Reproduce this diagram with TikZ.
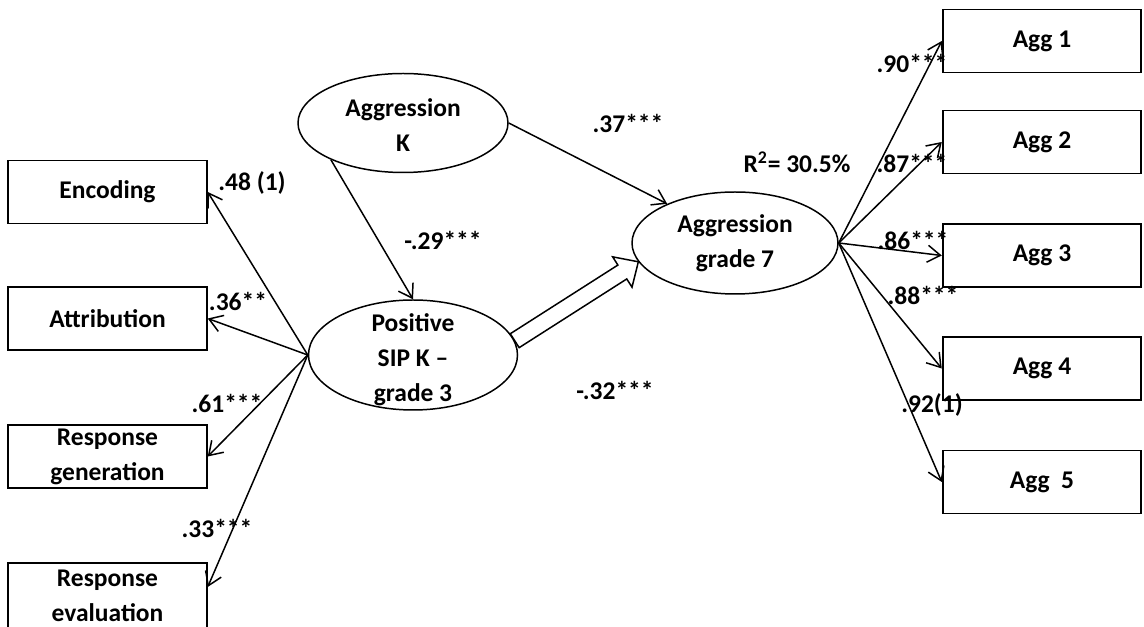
\documentclass[tikz,border=0pt]{standalone}
\usepackage{fontspec}
\setmainfont{Carlito}
\usetikzlibrary{arrows.meta, shapes.geometric, calc}
\tikzset{
  every picture/.style={font=\bfseries\fontsize{14.5pt}{19.9pt}\selectfont, line width=0.85pt},
  obs/.style={draw, rectangle, line width=1.1pt, minimum width=3.97cm, minimum height=1.26cm, align=center, inner sep=2pt},
  latent/.style={draw, ellipse, align=center, inner sep=1pt},
  loading/.style={-{Straight Barb[length=2.6mm, width=3.4mm]}},
  coef/.style={inner sep=1pt},
  hollow/.style={fill=white, line join=miter},
}

\begin{document}
\begin{tikzpicture}
  \useasboundingbox (0,0) rectangle (22.88,-12.54);
  % latent variables
  \node[latent, minimum width=4.2cm, minimum height=1.98cm] (aggK) at (8.06,-2.46) {\rule{0pt}{13pt}Aggression\\K};
  \node[latent, minimum width=4.18cm, minimum height=2.2cm, inner ysep=-9pt] (sip) at (8.26,-7.10) {\rule{0pt}{16pt}Positive\\SIP K –\\grade 3};
  \node[latent, minimum width=4.12cm, minimum height=2.04cm] (agg7) at (14.70,-4.86) {Aggression\\grade 7};
  % SIP indicators
  \foreach \nm/\yy/\txt in {enc/-3.84/Encoding, att/-6.37/Attribution, rgen/-9.13/{Response\\generation}}
    \node[obs] (\nm) at (2.15,\yy) {\txt};
  \node[obs, minimum height=1.32cm] (reval) at (2.15,-11.92) {Response\\evaluation};
  % aggression indicators
  \foreach \i/\yy in {1/-0.82, 2/-2.84, 3/-5.11, 4/-7.37}
    \node[obs] (agg\i) at (20.84,\yy) {Agg \i};
  \node[obs] (agg5) at (20.84,-9.64) {Agg\ \ 5};

  \foreach \nm in {enc, att, rgen}
    \draw[loading] (sip.west) -- (\nm.east);
  \draw[loading] (sip.west) -- ([yshift=0.18cm]reval.east);
  \foreach \i in {1,...,5}
    \draw[loading] (agg7.east) -- (agg\i.west);
  \draw[loading] (aggK.207) -- (sip.north);
  \draw[loading] (aggK.east) -- (agg7.150);

  % hollow arrow sip -> agg7
  \coordinate (ha) at (sip.8);
  \coordinate (hb) at (agg7.191);
  \coordinate (hn) at ($(hb)!0.38cm!(ha)$);
  \draw[hollow] ($(ha)!0.165cm!90:(hb)$) -- ($(hn)!0.165cm!-90:(ha)$) -- ($(hn)!0.36cm!-90:(ha)$) -- (hb)
    -- ($(hn)!0.36cm!90:(ha)$) -- ($(hn)!0.165cm!90:(ha)$) -- ($(ha)!0.165cm!-90:(hb)$) -- cycle;

  % coefficients
  \foreach \nm/\pos/\txt in {c48/{5.04,-3.65}/.48 (1), c36/{4.76,-6.02}/.36**, c61/{4.54,-8.06}/.61***,
                             c33/{4.34,-10.56}/.33***, c29/{8.86,-4.80}/-.29***, c37/{12.56,-2.46}/.37***,
                             c32/{12.30,-7.80}/-.32***, c90/{18.24,-1.26}/.90***, c87/{18.24,-3.26}/.87***,
                             c86/{18.26,-4.80}/.86***, c88/{18.46,-5.90}/.88***, c92/{18.64,-8.10}/.92(1)}
    \node[coef] (\nm) at (\pos) {\txt};
  \node[coef] (rsq) at (15.94,-3.24) {R\textsuperscript{2}= 30.5\%};
\end{tikzpicture}
\end{document}
